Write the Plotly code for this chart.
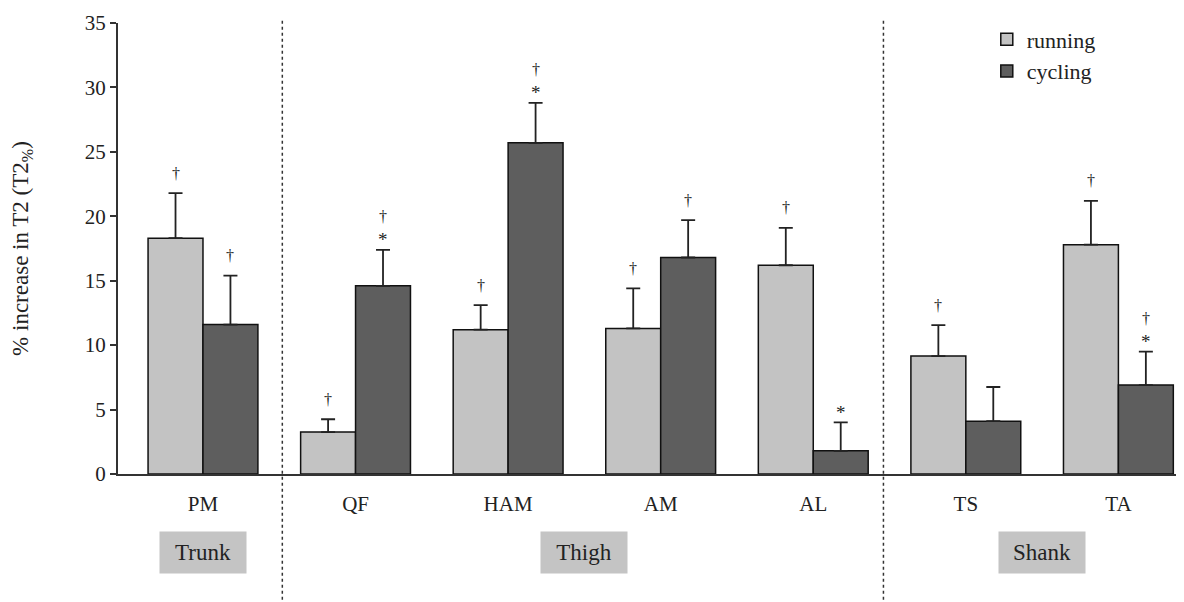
import plotly.graph_objects as go

categories = ["PM", "QF", "HAM", "AM", "AL", "TS", "TA"]
running = [18.3, 3.25, 11.2, 11.3, 16.2, 9.15, 17.8]
running_err = [3.5, 1.0, 1.9, 3.1, 2.9, 2.4, 3.4]
cycling = [11.6, 14.6, 25.7, 16.8, 1.8, 4.1, 6.9]
cycling_err = [3.8, 2.8, 3.1, 2.9, 2.2, 2.65, 2.6]
running_dagger = [True, True, True, True, True, True, True]
running_star = [False, False, False, False, False, False, False]
cycling_dagger = [True, True, True, True, False, False, True]
cycling_star = [False, True, True, False, True, False, True]
groups = ["Trunk", "Thigh", "Shank"]
group_members = [["PM"], ["QF", "HAM", "AM", "AL"], ["TS", "TA"]]
separators = [0.52, 4.46]

FONT = "Liberation Serif"
TXT = "#222222"
RUN_COL = "#c3c3c3"
CYC_COL = "#5e5e5e"
bargap = 0.28

fig = go.Figure()
fig.add_trace(go.Bar(
    name="running", x=categories, y=running,
    marker=dict(color=RUN_COL, line=dict(color="#111111", width=1.5)),
    error_y=dict(type="data", symmetric=False, array=running_err,
                 arrayminus=[0] * len(running), color="#222222", thickness=1.8, width=7),
))
fig.add_trace(go.Bar(
    name="cycling", x=categories, y=cycling,
    marker=dict(color=CYC_COL, line=dict(color="#111111", width=1.5)),
    error_y=dict(type="data", symmetric=False, array=cycling_err,
                 arrayminus=[0] * len(cycling), color="#222222", thickness=1.8, width=7),
))

off = (1 - bargap) / 4
annotations = []
def add_marks(vals, errs, daggers, stars, sign):
    for i, (v, e, d, s) in enumerate(zip(vals, errs, daggers, stars)):
        xpos = i + sign * off
        top = v + e
        if s:
            annotations.append(dict(x=xpos, y=top, xref="x", yref="y", text="*",
                                    showarrow=False, yanchor="middle", yshift=10,
                                    font=dict(family=FONT, size=19, color=TXT)))
        if d:
            annotations.append(dict(x=xpos, y=top, xref="x", yref="y", text="†",
                                    showarrow=False, yanchor="middle",
                                    yshift=33 if s else 20,
                                    font=dict(family=FONT, size=16, color=TXT)))

add_marks(running, running_err, running_dagger, running_star, -1)
add_marks(cycling, cycling_err, cycling_dagger, cycling_star, 1)

for g, members in zip(groups, group_members):
    idx = [categories.index(m) for m in members]
    annotations.append(dict(x=sum(idx) / len(idx), y=0, xref="x", yref="paper",
                            yanchor="middle", yshift=-78, text=g, showarrow=False,
                            bgcolor="#c4c4c4", width=84, height=39,
                            font=dict(family=FONT, size=23, color=TXT)))

shapes = []
for sx in separators:
    shapes.append(dict(type="line", xref="x", yref="paper", x0=sx, x1=sx,
                       y0=1.005, y1=-0.29, line=dict(color="#333333", width=1.5, dash="dot")))

fig.update_layout(
    width=1176, height=594,
    margin=dict(l=110, r=0, t=15, b=128),
    paper_bgcolor="white", plot_bgcolor="white",
    barmode="group", bargap=bargap, bargroupgap=0,
    font=dict(family=FONT, color=TXT, size=21),
    showlegend=True,
    legend=dict(x=0.815, y=1.01, xanchor="left", yanchor="top",
                font=dict(family=FONT, size=22, color=TXT),
                bgcolor="rgba(0,0,0,0)", tracegroupgap=2),
    annotations=annotations,
    shapes=shapes,
)
fig.update_xaxes(range=[-0.557, 6.43], showline=True, linecolor="#333333", linewidth=2,
                 ticks="", showgrid=False, zeroline=False,
                 tickfont=dict(family=FONT, size=21, color=TXT), ticklabelstandoff=10)
fig.update_yaxes(range=[0, 35], dtick=5, showline=True, linecolor="#333333", linewidth=2,
                 ticks="outside", ticklen=6, tickwidth=1.5, tickcolor="#333333",
                 showgrid=False, zeroline=False,
                 tickfont=dict(family=FONT, size=21, color=TXT),
                 title=dict(text="% increase in T2 (T2<sub>%</sub>)", standoff=50,
                            font=dict(family=FONT, size=23, color=TXT)))

fig.write_html("out.html")
